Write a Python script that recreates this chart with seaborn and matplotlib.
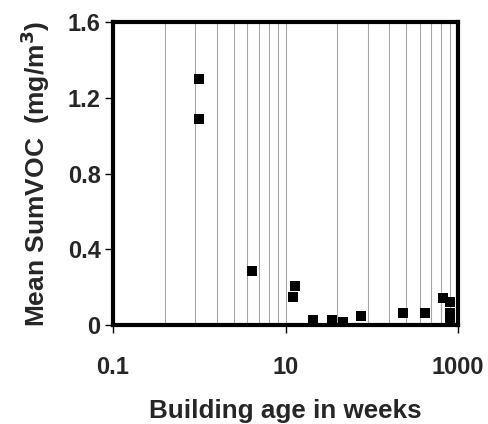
import numpy as np
import pandas as pd
import matplotlib
matplotlib.use("Agg")
import matplotlib.pyplot as plt
import seaborn as sns

# values
age_weeks = [1.0, 1.0, 4.06, 13.0, 12.3, 20.6, 35.0, 47.0, 76.0, 232.0, 417.0, 676.0, 813.0, 813.0, 813.0]
sum_voc = [1.30, 1.09, 0.286, 0.205, 0.148, 0.026, 0.026, 0.018, 0.050, 0.065, 0.065, 0.144, 0.123, 0.062, 0.032]

x_ticks = [0.1, 10, 1000]
x_tick_labels = ["0.1", "10", "1000"]
y_ticks = [0, 0.4, 0.8, 1.2, 1.6]
y_tick_labels = ["0", "0.4", "0.8", "1.2", "1.6"]
# Excel-style minor grid (log base 100 axis)
minor_grid = [0.1 * k ** 2 for k in range(2, 10)] + [10] + [10 * k ** 2 for k in range(2, 10)]

df = pd.DataFrame({"age": age_weeks, "voc": sum_voc})

sns.set_style("white")
plt.rcParams['font.family'] = ['Liberation Sans', 'DejaVu Sans']
plt.rcParams['font.weight'] = 'bold'

fig = plt.figure(figsize=(4.88, 4.24), dpi=100)
ax = fig.add_axes([0.2316, 0.2335, 0.7069, 0.7145])

ax.set_xscale("log")
ax.set_xlim(0.1, 1000)
ax.set_ylim(0, 1.6)

for g in minor_grid:
    ax.axvline(g, color="#a6a6a6", lw=0.8, zorder=0)

sns.scatterplot(data=df, x="age", y="voc", ax=ax, marker="s", s=55,
                color="black", edgecolor="black", linewidth=0, zorder=3)

ax.set_xticks(x_ticks)
ax.set_xticklabels(x_tick_labels)
ax.xaxis.set_minor_locator(matplotlib.ticker.NullLocator())
ax.set_yticks(y_ticks)
ax.set_yticklabels(y_tick_labels)

ax.tick_params(axis="x", direction="out", length=6, width=1, pad=16, labelsize=17, color="black")
ax.tick_params(axis="y", direction="out", length=6, width=1, pad=3, labelsize=17, color="black")
ax.tick_params(left=True, bottom=True)

for sp in ax.spines.values():
    sp.set_visible(True)
    sp.set_color("black")
    sp.set_linewidth(3)
    sp.set_zorder(5)

ax.set_xlabel("Building age in weeks", fontsize=18.7, fontweight="bold", labelpad=15)
ax.set_ylabel("Mean SumVOC  (mg/m$^\\mathbf{3}$)", fontsize=19, fontweight="bold", labelpad=11)

fig.savefig("out.png", dpi=100)
